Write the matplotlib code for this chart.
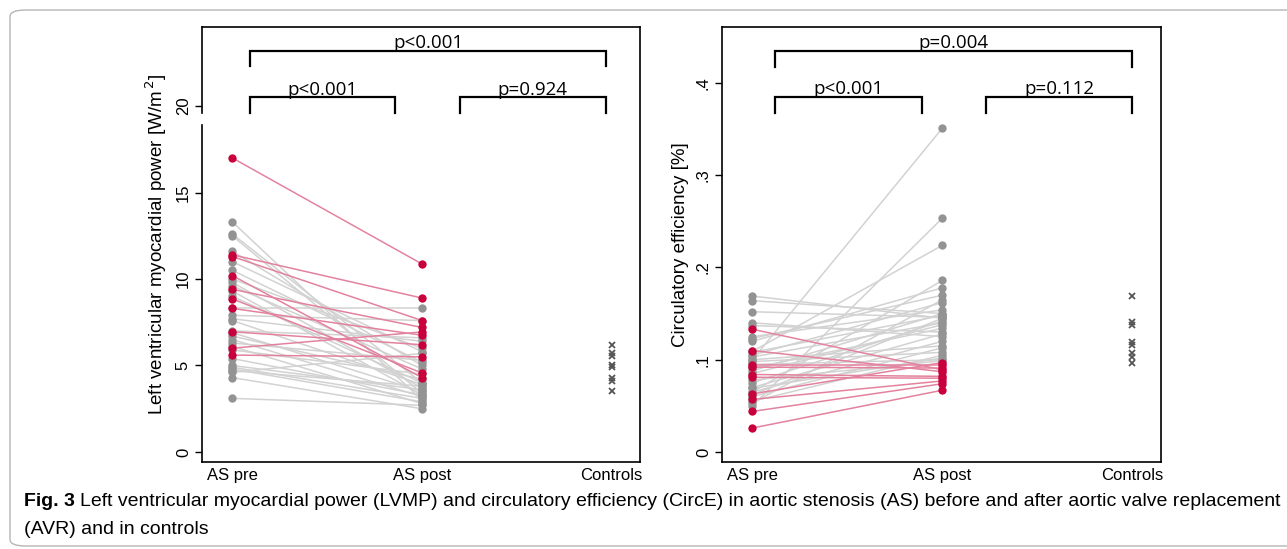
import numpy as np
import matplotlib.pyplot as plt
import matplotlib.transforms as mtrans
from matplotlib.patches import FancyBboxPatch

plt.rcParams['font.family'] = ['Liberation Sans', 'DejaVu Sans']

groups = ['AS pre', 'AS post', 'Controls']

# LVMP [W/m2] - highlighted (red) patients, pre / post
lvmp_red_pre = [17.0, 11.4, 11.3, 10.2, 9.4, 8.85, 8.3, 6.95, 6.0, 5.6]
lvmp_red_post = [10.87, 8.9, 7.6, 4.3, 7.2, 4.57, 6.75, 6.2, 6.94, 5.5]
# LVMP - other patients
lvmp_gray_pre = [13.3, 12.6, 12.5, 11.6, 11.0, 10.0, 9.8, 9.6, 9.3, 8.3, 7.9, 7.7, 7.6, 6.7, 6.5,
                 6.3, 6.1, 5.9, 5.0, 4.9, 4.8, 4.7, 4.6, 4.3, 3.1, 7.0, 6.9, 9.0, 10.5, 5.4]
lvmp_gray_post = [3.0, 4.0, 3.4, 5.0, 5.8, 6.0, 3.7, 4.8, 3.3, 8.3, 7.6, 6.4, 3.9, 4.2, 3.2,
                  5.3, 2.8, 4.5, 3.6, 3.1, 2.9, 3.8, 5.7, 2.5, 2.7, 6.6, 3.5, 4.0, 5.2, 3.3]
lvmp_controls = [6.2, 5.7, 5.55, 5.05, 4.9, 4.3, 4.1, 3.5]

# CircE [%]
circ_red_pre = [0.133, 0.110, 0.094, 0.092, 0.084, 0.081, 0.063, 0.057, 0.044, 0.026]
circ_red_post = [0.089, 0.087, 0.094, 0.091, 0.082, 0.080, 0.097, 0.077, 0.074, 0.067]
circ_gray_pre = [0.100, 0.050, 0.109, 0.065, 0.169, 0.164, 0.152, 0.140, 0.137, 0.123,
                 0.120, 0.105, 0.103, 0.100, 0.098, 0.091, 0.088, 0.075, 0.070, 0.069,
                 0.065, 0.060, 0.053, 0.055, 0.108, 0.095, 0.085, 0.078, 0.125, 0.062]
circ_gray_post = [0.351, 0.2535, 0.224, 0.186, 0.145, 0.150, 0.146, 0.125, 0.130, 0.170,
                  0.178, 0.162, 0.140, 0.115, 0.108, 0.134, 0.150, 0.142, 0.128, 0.102,
                  0.120, 0.113, 0.165, 0.105, 0.148, 0.100, 0.138, 0.099, 0.154, 0.145]
circ_controls = [0.169, 0.141, 0.138, 0.119, 0.116, 0.107, 0.103, 0.097]

# comparisons: (group a, group b, label)
lvmp_tests = [(1, 3, 'p<0.001'), (1, 2, 'p<0.001'), (2, 3, 'p=0.924')]
circ_tests = [(1, 3, 'p=0.004'), (1, 2, 'p<0.001'), (2, 3, 'p=0.112')]

RED = '#c8003c'
RED_LINE = '#e3829e'
GRAY = '#939393'
GRAY_LINE = '#d2d2d2'

fig = plt.figure(figsize=(12.87, 5.49), dpi=100)

# outer frame of the figure box
frame = FancyBboxPatch((10 / 1287, 3 / 549), 1.2, 1 - 13 / 549,
                       boxstyle='round,pad=0,rounding_size=0.012',
                       transform=fig.transFigure, fc='none', ec='#b5b5b5', lw=1.0,
                       clip_on=False)
fig.patches.append(frame)

ax1 = fig.add_axes([202 / 1287, 1 - 462 / 549, 438 / 1287, 435 / 549])
ax2 = fig.add_axes([722 / 1287, 1 - 462 / 549, 439 / 1287, 435 / 549])


def draw_panel(ax, red_pre, red_post, gray_pre, gray_post, controls):
    for a, b in zip(gray_pre, gray_post):
        ax.plot([1, 2], [a, b], color=GRAY_LINE, lw=1.1, zorder=1)
    for a, b in zip(red_pre, red_post):
        ax.plot([1, 2], [a, b], color=RED_LINE, lw=1.1, zorder=2)
    ax.plot([1] * len(gray_pre), gray_pre, 'o', color=GRAY, ms=6, mew=0, zorder=3)
    ax.plot([2] * len(gray_post), gray_post, 'o', color=GRAY, ms=6, mew=0, zorder=3)
    ax.plot([1] * len(red_pre), red_pre, 'o', color=RED, ms=6, mew=0, zorder=4)
    ax.plot([2] * len(red_post), red_post, 'o', color=RED, ms=6, mew=0, zorder=4)
    ax.plot([3] * len(controls), controls, 'x', color='#555555', ms=4, mew=1.3, zorder=4)
    ax.set_xlim(0.84, 3.15)
    ax.set_xticks([1, 2, 3])
    ax.set_xticklabels(groups, fontsize=12)
    ax.tick_params(axis='x', length=0, pad=4)
    ax.tick_params(axis='y', length=5, width=1, labelsize=12, labelrotation=90, pad=3)
    for lab in ax.get_yticklabels():
        lab.set_va('center')
    for s in ax.spines.values():
        s.set_linewidth(1.2)


def draw_brackets(ax, tests, y_hi, y_lo, drop, xs):
    for (g1, g2, txt) in tests:
        if g1 == 1 and g2 == 3:
            y, x1, x2 = y_hi, xs[0], xs[3]
        elif g1 == 1:
            y, x1, x2 = y_lo, xs[0], xs[1]
        else:
            y, x1, x2 = y_lo, xs[2], xs[3]
        ax.plot([x1, x1, x2, x2], [y - drop, y, y, y - drop], color='k', lw=1.6,
                solid_joinstyle='miter', clip_on=False)
        ax.text((x1 + x2) / 2, y - drop * 0.08, txt, ha='center', va='bottom',
                fontsize=13.5, family=['Open Sans', 'DejaVu Sans'])


# left panel
draw_panel(ax1, lvmp_red_pre, lvmp_red_post, lvmp_gray_pre, lvmp_gray_post, lvmp_controls)
ax1.set_ylim(-0.58, 24.57)
ax1.set_yticks([0, 5, 10, 15, 20])
ax1.set_ylabel('Left ventricular myocardial power [W/m$^{\\,2}$]', fontsize=13.5, labelpad=5)
ax1.spines['left'].set_bounds(-0.58, 18.9)
trans = mtrans.blended_transform_factory(ax1.transAxes, ax1.transData)
ax1.plot([0, 0], [19.6, 24.57], color='k', lw=1.2, transform=trans, clip_on=False)
draw_brackets(ax1, lvmp_tests, 23.2, 20.5, 0.9, [1.095, 1.86, 2.2, 2.97])

# right panel
draw_panel(ax2, circ_red_pre, circ_red_post, circ_gray_pre, circ_gray_post, circ_controls)
ax2.set_ylim(-0.0108, 0.4605)
ax2.set_yticks([0, 0.1, 0.2, 0.3, 0.4])
ax2.set_yticklabels(['0', '.1', '.2', '.3', '.4'])
for lab in ax2.get_yticklabels():
    lab.set_va('center')
ax2.set_ylabel('Circulatory efficiency [%]', fontsize=13.5, labelpad=5)
draw_brackets(ax2, circ_tests, 0.4345, 0.3846, 0.0168, [1.12, 1.89, 2.23, 3.0])

# caption
cap_font = ['Liberation Sans Narrow', 'Liberation Sans', 'DejaVu Sans']
fig.text(24 / 1287, 1 - 501 / 549, 'Fig. 3', fontsize=14, fontweight='bold',
         family=cap_font, va='center')
fig.text(80 / 1287, 1 - 501 / 549,
         'Left ventricular myocardial power (LVMP) and circulatory efficiency (CircE) in aortic '
         'stenosis (AS) before and after aortic valve replacement',
         fontsize=14, family=cap_font, va='center')
fig.text(24 / 1287, 1 - 530 / 549, '(AVR) and in controls', fontsize=14,
         family=cap_font, va='center')

fig.savefig('out.png', dpi=100)
